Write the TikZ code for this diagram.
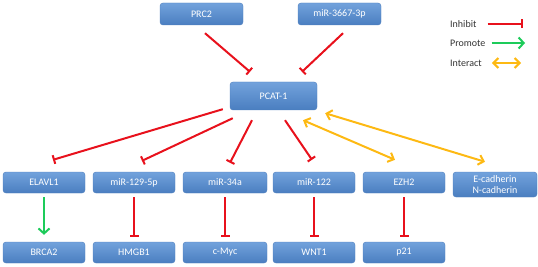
\documentclass[tikz,border=0pt]{standalone}
\usepackage{fontspec}
\setmainfont{Carlito}
\usepackage{xcolor}
\usetikzlibrary{arrows.meta,positioning}

\definecolor{boxtop}{HTML}{72A2DC}
\definecolor{boxbot}{HTML}{4A7EC0}
\definecolor{boxline}{HTML}{4E7FBE}
\definecolor{inhred}{HTML}{E8111C}
\definecolor{promgreen}{HTML}{1DCB5A}
\definecolor{interyel}{HTML}{FDB913}
\definecolor{legtext}{HTML}{333333}

\begin{document}
\begin{tikzpicture}[
    x=1pt, y=-1pt,
    box/.style={draw=boxline, line width=0.4pt, rounded corners=3pt, align=center,
      top color=boxtop, bottom color=boxbot, text=white, inner sep=1pt,
      minimum height=21pt, minimum width=82pt, font=\fontsize{10}{11}\selectfont},
    legend/.style={anchor=west, inner sep=0pt, text=legtext, font=\fontsize{10}{11}\selectfont},
    inhibit/.style={-{Bar[width=9pt,line width=2pt]}, draw=inhred, line width=2pt},
    promote/.style={-{Straight Barb[length=5pt,width=11pt,line width=2pt]}, draw=promgreen, line width=2pt},
    interact/.style={{Straight Barb[length=5pt,width=10pt,line width=2pt]}-{Straight Barb[length=5pt,width=10pt,line width=2pt]}, draw=interyel, line width=2pt}
  ]
    \useasboundingbox (0,0) rectangle (538,267);
    % top row
    \node[box, minimum height=22pt, minimum width=83pt] (prc) at (201.5,14) {PRC2};
    \node[box, minimum height=22pt, minimum width=83pt] (mirtop) at (339.5,14) {miR-3667-3p};
    \node[box, minimum height=28pt, minimum width=87pt] (pcat) at (273.5,96) {PCAT-1};
    % middle row
    \node[box] (elavl) at (44,182.5) {ELAVL1};
    \node[box] (mirA) at (134,182.5) {miR-129-5p};
    \node[box, minimum width=84pt] (mirB) at (225,182.5) {miR-34a};
    \node[box] (mirC) at (314,182.5) {miR-122};
    \node[box] (ezh) at (404,182.5) {EZH2};
    \node[box, minimum height=25pt, minimum width=84pt] (cadh) at (495,184.5) {E-cadherin\\N-cadherin};
    % bottom row
    \node[box] (brca) at (44,252.5) {BRCA2};
    \node[box] (hmgb) at (134,252.5) {HMGB1};
    \node[box, minimum width=84pt] (myc) at (225,252.5) {c-Myc};
    \node[box] (wnt) at (314,252.5) {WNT1};
    \node[box] (pp) at (404,252.5) {p21};
    % legend
    \node[legend] (linh) at (450,24) {Inhibit};
    \node[legend] (lpro) at (450,43) {Promote};
    \node[legend] (lint) at (450,63) {Interact};
    \coordinate (einh) at (523,24);
    \coordinate (epro) at (525,43);
    \coordinate (eint) at (521,63);
    \draw[inhibit] ([xshift=11pt]linh.east) -- (einh);
    \draw[promote] ([xshift=6pt]lpro.east) -- (epro);
    \draw[interact] ([xshift=10pt]lint.east) -- (eint);
    % into PCAT-1
    \draw[inhibit] ([shift={(3.5,8)}]prc.south) -- ([shift={(-23.5,-10)}]pcat.north);
    \draw[inhibit] ([shift={(3.5,8)}]mirtop.south) -- ([shift={(28.5,-10)}]pcat.north);
    % out of PCAT-1
    \draw[inhibit] ([shift={(-7,-1)}]pcat.south west) -- ([shift={(9,-12)}]elavl.north);
    \draw[inhibit] ([shift={(3,8)}]pcat.south west) -- ([shift={(8,-11)}]mirA.north);
    \draw[inhibit] ([shift={(-21.5,10)}]pcat.south) -- ([shift={(5,-9)}]mirB.north);
    \draw[inhibit] ([shift={(11.5,10)}]pcat.south) -- ([shift={(-2,-12)}]mirC.north);
    \draw[interact] ([shift={(29.5,10)}]pcat.south) -- ([shift={(-9,-12)}]ezh.north);
    \draw[interact] ([shift={(8,3)}]pcat.south east) -- ([shift={(-10,-10)}]cadh.north);
    % downstream
    \draw[promote] ([shift={(0,4)}]elavl.south) -- ([shift={(0,-7)}]brca.north);
    \draw[inhibit] ([shift={(0,4)}]mirA.south) -- ([shift={(0,-5)}]hmgb.north);
    \draw[inhibit] ([shift={(0,4)}]mirB.south) -- ([shift={(0,-5)}]myc.north);
    \draw[inhibit] ([shift={(0,4)}]mirC.south) -- ([shift={(0,-5)}]wnt.north);
    \draw[inhibit] ([shift={(0,4)}]ezh.south) -- ([shift={(0,-5)}]pp.north);
\end{tikzpicture}
\end{document}
